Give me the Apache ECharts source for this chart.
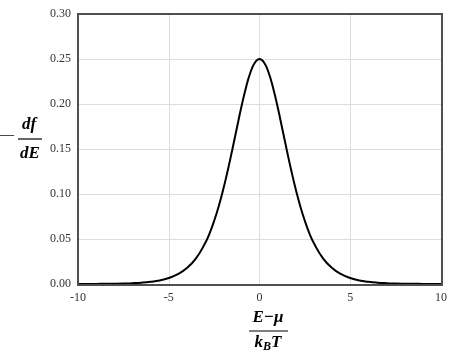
<!DOCTYPE html>
<html><head><meta charset="utf-8">
<script src="https://cdn.jsdelivr.net/npm/echarts@6/dist/echarts.min.js"></script>
<style>html,body{margin:0;padding:0;background:#fff}#c{width:454px;height:355px}</style>
</head><body><div id="c"></div>
<script>
var xValues = [-10,-9.5,-9,-8.5,-8,-7.5,-7,-6.5,-6,-5.5,-5,-4.5,-4,-3.5,-3,-2.75,-2.5,-2.25,-2,-1.75,-1.5,-1.25,-1,-0.75,-0.5,-0.25,0,0.25,0.5,0.75,1,1.25,1.5,1.75,2,2.25,2.5,2.75,3,3.5,4,4.5,5,5.5,6,6.5,7,7.5,8,8.5,9,9.5,10];
var yValues = [0.00005,0.00008,0.00012,0.0002,0.00034,0.00055,0.0009,0.0015,0.0025,0.004,0.0067,0.0109,0.0177,0.0285,0.0452,0.0563,0.0701,0.0862,0.105,0.1261,0.1491,0.1731,0.1966,0.2179,0.235,0.2461,0.25,0.2461,0.235,0.2179,0.1966,0.1731,0.1491,0.1261,0.105,0.0862,0.0701,0.0563,0.0452,0.0285,0.0177,0.0109,0.0067,0.004,0.0025,0.0015,0.0009,0.00055,0.00034,0.0002,0.00012,0.00008,0.00005];
var xTicks = [-10,-5,0,5,10];
var yTicks = ['0.00','0.05','0.10','0.15','0.20','0.25','0.30'];
var serif = '"Liberation Serif", "DejaVu Serif", serif';
var chart = echarts.init(document.getElementById('c'));
var data = xValues.map(function(x,i){return [x,yValues[i]];});
var mathStyle = {fontFamily: serif, fontStyle: 'italic', fontWeight: 'bold', fontSize: 17, fill: '#000'};
chart.setOption({
  animation: false,
  grid: {left: 78, right: 13, top: 14, bottom: 71, show: false},
  xAxis: {type: 'value', min: -10, max: 10, interval: 5,
    axisLine: {show: false}, axisTick: {show: false},
    splitLine: {show: true, lineStyle: {color: '#ddd', width: 1}},
    axisLabel: {fontFamily: serif, fontSize: 12, color: '#333', margin: 8,
      formatter: function(v){return xTicks.indexOf(v) >= 0 ? String(v) : '';}}},
  yAxis: {type: 'value', min: 0, max: 0.3, interval: 0.05,
    axisLine: {show: false}, axisTick: {show: false},
    splitLine: {show: true, lineStyle: {color: '#ddd', width: 1}},
    axisLabel: {fontFamily: serif, fontSize: 12, color: '#333', margin: 7,
      formatter: function(v){return yTicks[Math.round(v/0.05)];}}},
  series: [{type: 'line', data: data, smooth: true, showSymbol: false,
    lineStyle: {color: '#000', width: 2}}],
  graphic: [
    {type: 'rect', z: 100, shape: {x: 78, y: 14, width: 364, height: 271}, style: {fill: 'none', stroke: '#505050', lineWidth: 2}, silent: true},
    {type: 'text', left: 0, top: 128, style: {text: '\u2014', font: '14px ' + serif, fill: '#000'}},
    {type: 'text', x: 29, y: 125, style: Object.assign({text: 'df', textAlign: 'center', textVerticalAlign: 'middle'}, mathStyle)},
    {type: 'line', shape: {x1: 18, y1: 139, x2: 42, y2: 139}, style: {stroke: '#000', lineWidth: 1.2}},
    {type: 'text', x: 30, y: 154, style: Object.assign({text: 'dE', textAlign: 'center', textVerticalAlign: 'middle'}, mathStyle)},
    {type: 'text', x: 268, y: 318, style: Object.assign({text: 'E\u2212\u03bc', textAlign: 'center', textVerticalAlign: 'middle'}, mathStyle)},
    {type: 'line', shape: {x1: 249, y1: 331, x2: 288, y2: 331}, style: {stroke: '#000', lineWidth: 1.2}},
    {type: 'text', x: 268, y: 343, style: {text: '{a|k}{b|B}{a|T}', textAlign: 'center', textVerticalAlign: 'middle',
      rich: {a: {fontFamily: serif, fontStyle: 'italic', fontWeight: 'bold', fontSize: 17, fill: '#000'},
             b: {fontFamily: serif, fontStyle: 'italic', fontWeight: 'bold', fontSize: 12, fill: '#000', padding: [8,0,0,0]}}}}
  ]
});
</script></body></html>
